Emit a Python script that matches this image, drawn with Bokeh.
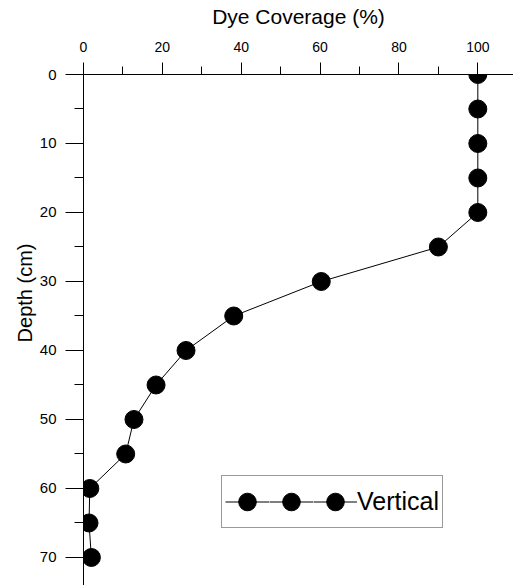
from bokeh.plotting import figure
from bokeh.models import Range1d, FixedTicker, Legend, LegendItem, Title
from bokeh.embed import file_html
from bokeh.resources import INLINE

# Data
depth_cm = [0, 5, 10, 15, 20, 25, 30, 35, 40, 45, 50, 55, 60, 65, 70]
dye_coverage = [100, 100, 100, 100, 100, 90.0, 60.3, 38.1, 26.0, 18.4, 12.8, 10.7, 1.6, 1.4, 2.0]

x_major = [0, 20, 40, 60, 80, 100]
x_minor = [10, 30, 50, 70, 90]
y_major = [0, 10, 20, 30, 40, 50, 60, 70]
y_minor = [5, 15, 25, 35, 45, 55, 65]

FONT = "Liberation Sans"

p = figure(width=513, height=585, output_backend="svg", toolbar_location=None,
           x_axis_location="above",
           x_range=Range1d(0, 109.05), y_range=Range1d(74.06, 0),
           min_border_left=83, min_border_top=74, min_border_right=0, min_border_bottom=0)
p.outline_line_color = None
p.xgrid.visible = False
p.ygrid.visible = False
p.background_fill_color = "white"
p.border_fill_color = "white"

ln = p.line(dye_coverage, depth_cm, line_color="black", line_width=1)
sc = p.scatter(dye_coverage, depth_cm, size=18, marker="circle",
               fill_color="black", line_color="black")

xa = p.xaxis[0]
xa.ticker = FixedTicker(ticks=x_major, minor_ticks=x_minor)
xa.axis_label = "Dye Coverage (%)"
xa.axis_label_text_font = FONT
xa.axis_label_text_font_size = "21px"
xa.axis_label_text_font_style = "normal"
xa.axis_label_text_color = "black"
xa.axis_label_standoff = 11
xa.major_label_text_font = FONT
xa.major_label_text_font_size = "14px"
xa.major_label_text_color = "black"
xa.major_label_standoff = 11
xa.major_tick_out = 12
xa.major_tick_in = 0
xa.minor_tick_out = 8
xa.minor_tick_in = 0
xa.axis_line_color = "black"
xa.major_tick_line_color = "black"
xa.minor_tick_line_color = "black"

ya = p.yaxis[0]
ya.ticker = FixedTicker(ticks=y_major, minor_ticks=y_minor)
ya.major_label_text_font = FONT
ya.major_label_text_font_size = "15px"
ya.major_label_text_color = "black"
ya.major_label_standoff = 9
ya.major_tick_out = 18
ya.major_tick_in = 0
ya.minor_tick_out = 9
ya.minor_tick_in = 0
ya.axis_line_color = "black"
ya.major_tick_line_color = "black"
ya.minor_tick_line_color = "black"

ytitle = Title(text="Depth (cm)", align="right", offset=169,
               text_font=FONT, text_font_size="20px", text_font_style="normal",
               text_color="black", vertical_align="middle", standoff=0)
p.add_layout(ytitle, "left")

legend = Legend(items=[LegendItem(label="", renderers=[ln, sc]),
                       LegendItem(label="", renderers=[ln, sc]),
                       LegendItem(label="Vertical", renderers=[ln, sc])],
                orientation="horizontal", location=(138, 57),
                glyph_width=44, glyph_height=45, padding=3, spacing=0,
                label_standoff=0, label_width=0,
                label_text_font=FONT, label_text_font_size="25px",
                label_text_color="black",
                border_line_color="#333333", border_line_width=1,
                background_fill_color="white", background_fill_alpha=1.0)
p.add_layout(legend)

open("out.html", "w").write(file_html(p, INLINE))
